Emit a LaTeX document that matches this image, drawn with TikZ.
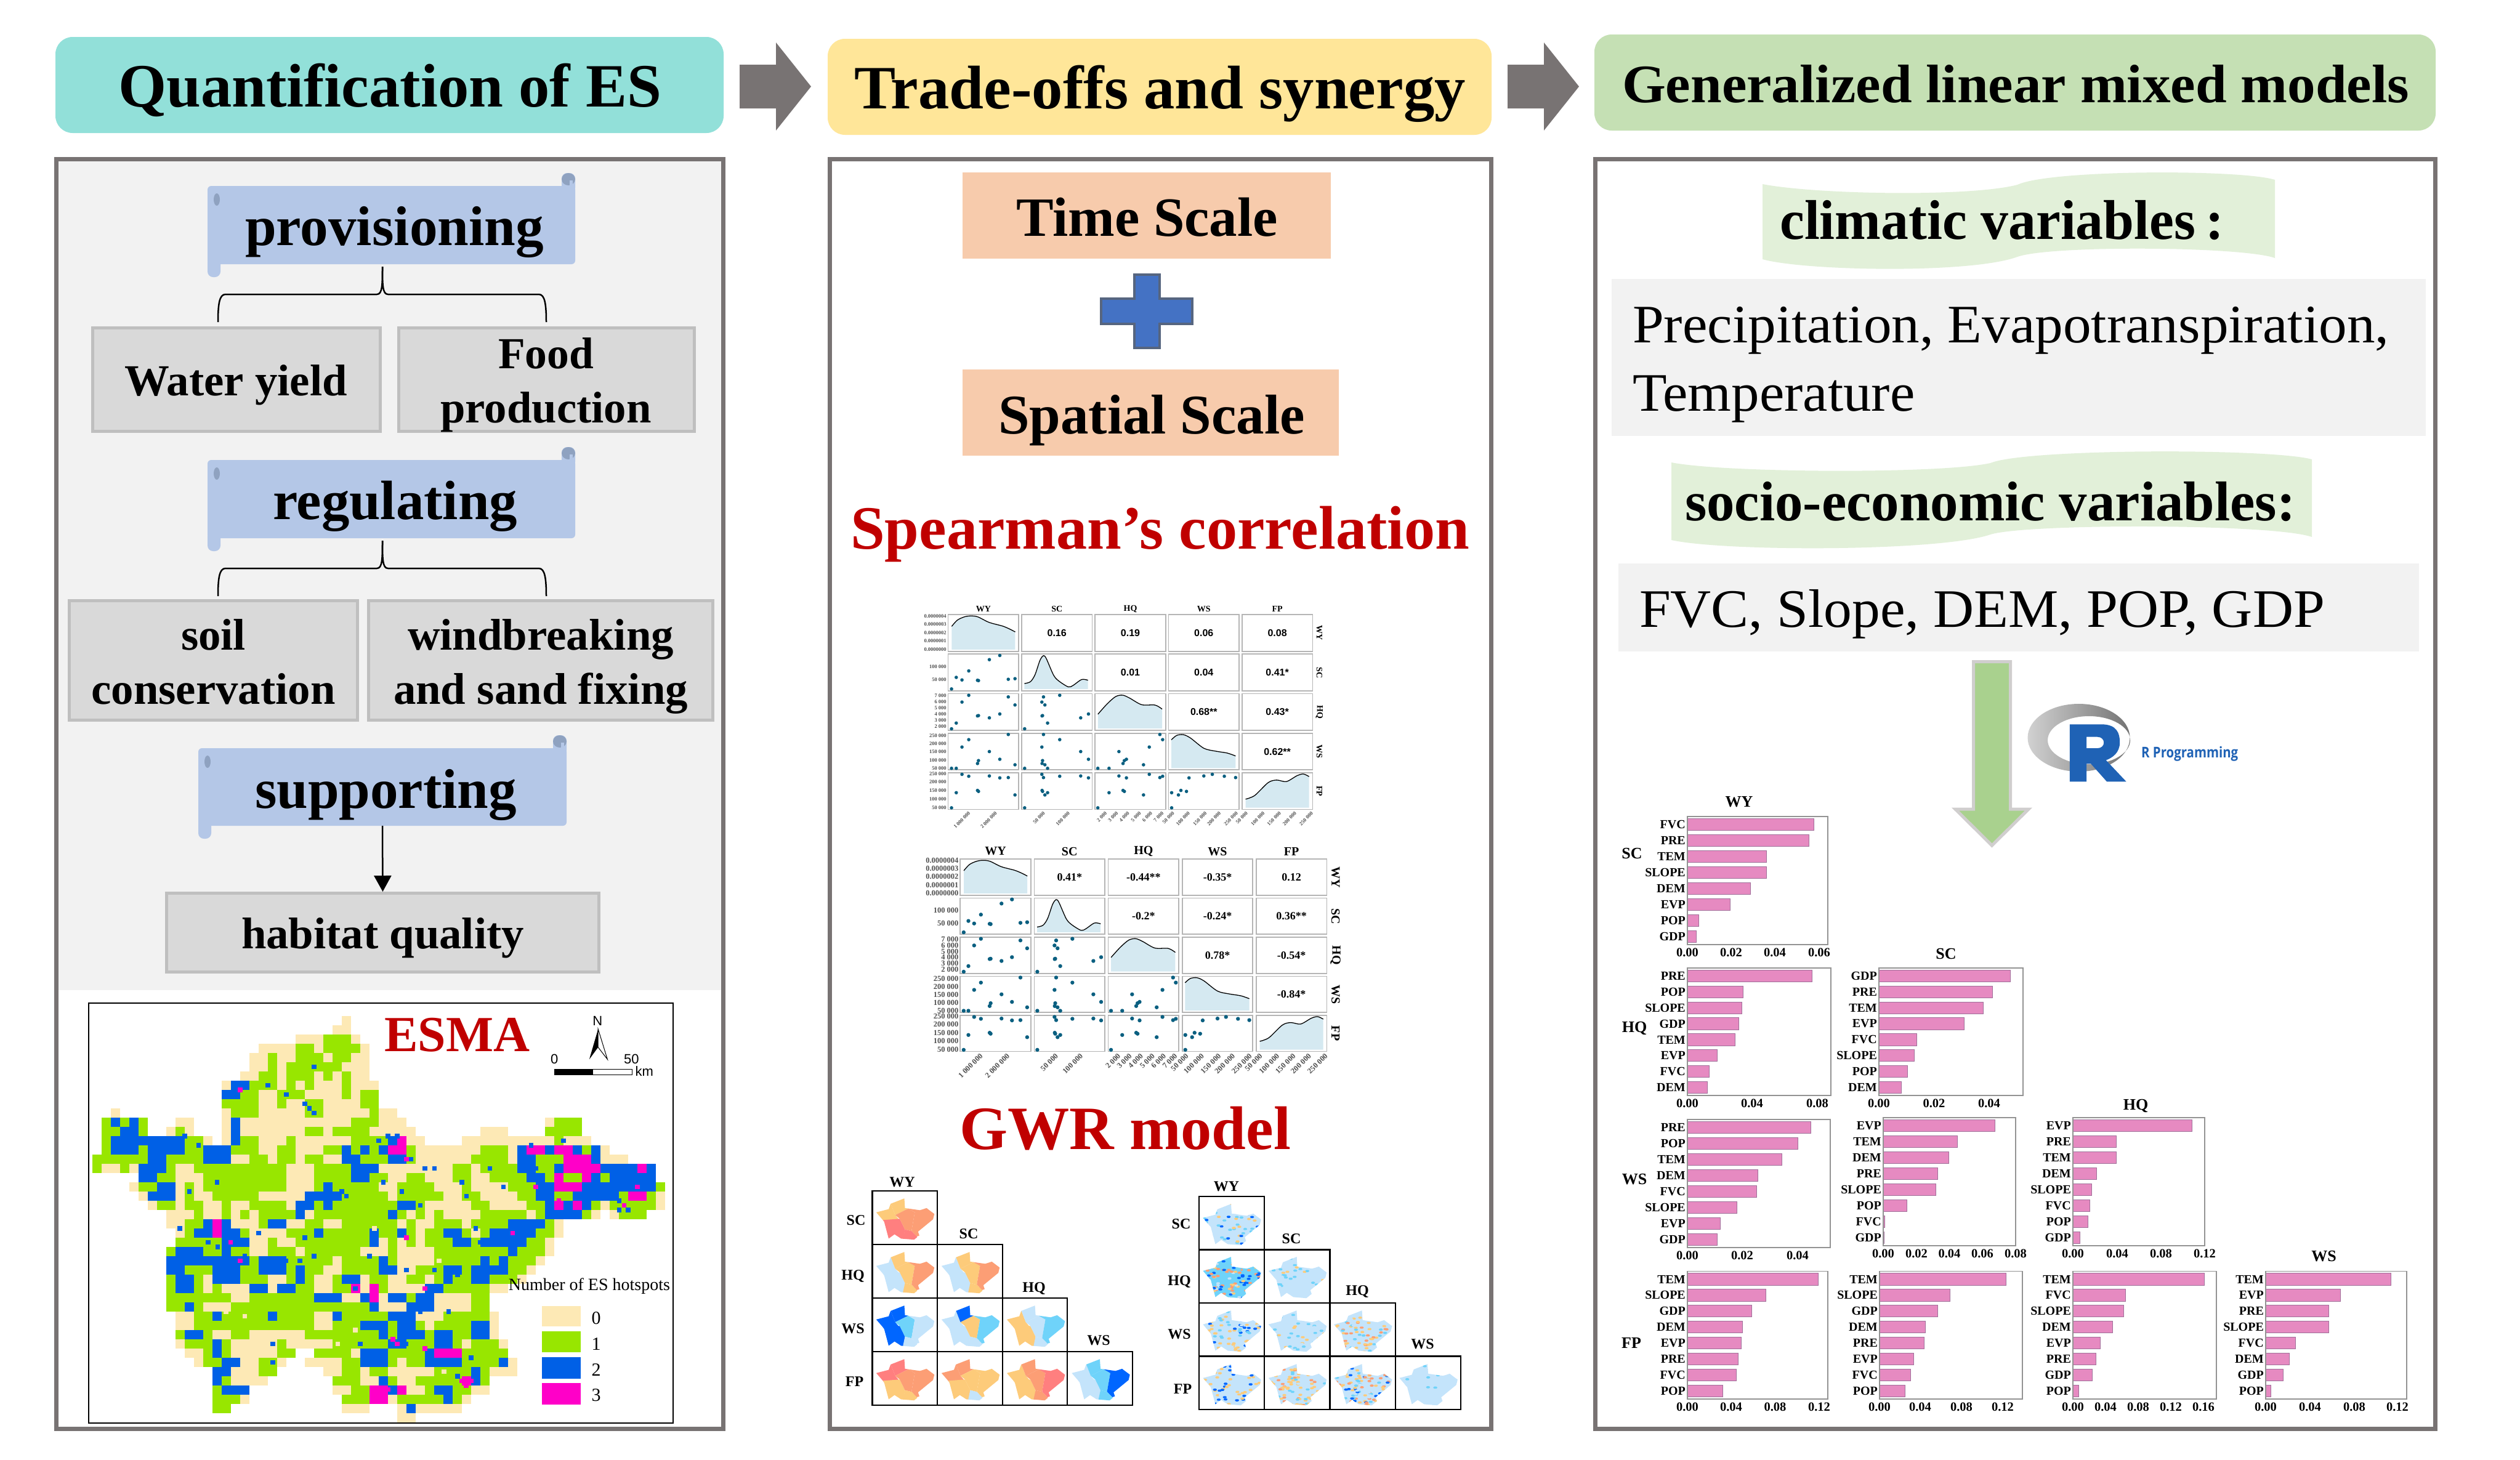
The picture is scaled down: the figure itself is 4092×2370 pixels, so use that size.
\documentclass[tikz,border=0pt]{standalone}
\usepackage{fontspec}
\usepackage{graphicx}
\setmainfont{Liberation Serif}
\setsansfont{Liberation Sans}
\newfontfamily\opensans{Open Sans}
\usetikzlibrary{arrows.meta}
\newcounter{nn}
\newsavebox\fitbox
\newlength\fitlen
\newcommand\fz[1]{\fontsize{#1}{#1}\selectfont}
\newcommand\fitw[2]{\sbox\fitbox{#2}\setlength\fitlen{\wd\fitbox}\pgfmathsetmacro\fitr{#1/\fitlen}\scalebox{\fitr}[1]{\usebox\fitbox}}
\newcommand\lbl[5]{\makebox[0pt][c]{\kern\dimexpr#1pt*2\relax\smash{\raisebox{\dimexpr-#2pt\relax}{\fz{#4}\fitw{#3}{#5}}}}}
\definecolor{hA}{HTML}{92E0D9}\definecolor{hB}{HTML}{FFE699}\definecolor{hC}{HTML}{C5E0B4}
\definecolor{frameC}{HTML}{787373}\definecolor{panelG}{HTML}{F2F2F2}
\definecolor{boxF}{HTML}{D9D9D9}\definecolor{boxS}{HTML}{BFBFBF}
\definecolor{scrollC}{HTML}{B4C7E7}\definecolor{scrollD}{HTML}{8FA2C0}
\definecolor{peach}{HTML}{F7CBAC}\definecolor{plusF}{HTML}{4472C4}\definecolor{plusS}{HTML}{56657F}
\definecolor{redT}{HTML}{C00000}\definecolor{bannerG}{HTML}{E2F0D9}
\definecolor{arrG}{HTML}{A9D18E}\definecolor{arrS}{HTML}{D0CECE}
\definecolor{rBlue}{HTML}{1F62B5}
\definecolor{barF}{HTML}{E68AC1}\definecolor{barS}{HTML}{A0709A}
\definecolor{mc}{HTML}{FDE9B5}\definecolor{mg}{HTML}{98E600}\definecolor{mb}{HTML}{0060E6}\definecolor{mm}{HTML}{FF00C8}
\definecolor{ppF}{HTML}{D5E9F1}\definecolor{ppD}{HTML}{0A5F80}\definecolor{ppC}{HTML}{B5B5B5}\definecolor{ppT}{HTML}{505050}
\definecolor{gY}{HTML}{FDCB7A}\definecolor{gO}{HTML}{FC9E75}\definecolor{gR}{HTML}{FF7F7F}
\definecolor{gL}{HTML}{C4E4FB}\definecolor{gM}{HTML}{6FD3FA}\definecolor{gD}{HTML}{0066FF}
\tikzset{
 autoname/.code={\stepcounter{nn}\edef\tmpn{\noexpand\tikzset{name=n\arabic{nn}}}\tmpn},
 every node/.append style={autoname},
 head/.style={rounded corners=28pt,inner sep=0pt,font=\bfseries},
 panel/.style={draw=frameC,line width=7pt},
 esbox/.style={draw=boxS,fill=boxF,line width=5pt,inner sep=0pt,font=\bfseries},
 txt/.style={anchor=base west,inner sep=0pt},
 peachbox/.style={fill=peach,inner sep=0pt,font=\bfseries},
 conn/.style={draw=black,line width=2.5pt},
 barrect/.style={fill=barF,draw=barS,line width=1pt},
 chartframe/.style={draw=gray!85,line width=1.5pt},
 ppcell/.style={draw=ppC,line width=1.8pt},
 gridcell/.style={draw=black,line width=2.2pt},
}
% ---------- raster of the hotspot map: cells of 15 units, "|" only groups the columns
\newcount\mapi
\def\maprow#1#2{\def\rowj{#1}\mapi=0 \mapcell#2\relax}
\def\mapcell#1{\ifx#1\relax\else
  \ifx#1|\else
   \ifx#1.\else\fill[m#1] (150+15*\the\mapi,1650+15*\rowj) rectangle ++(15.4,15.4);\fi
   \advance\mapi by 1
  \fi
  \expandafter\mapcell\fi}
% ---------- scroll shape
\newcommand\scrollshape[4]{%
 \fill[scrollC,rounded corners=6pt] (#1,#2) rectangle (#3,#4);
 \fill[scrollC,rounded corners=9pt] (#1,#4-12) rectangle (#1+21,#4+21);
 \fill[scrollC,rounded corners=9pt] (#3-22,#2-21) rectangle (#3,#2+12);
 \fill[scrollD] (#3-11,#2-11) ellipse [x radius=11pt,y radius=10pt];
 \fill[scrollC] (#3-9,#2-9) rectangle (#3-4,#2+2);
 \fill[scrollD] (#1+15,#2+22) ellipse [x radius=5pt,y radius=10pt];
}
% ---------- bar chart
\newcommand\barchart[6]{%
 \foreach \lab/\wid [count=\ii] in {#5}{%
  \pgfmathsetmacro\yc{#2+(\ii-.5)*(#4-#2)/8}
  \draw[barrect] (#1,\yc-9.6) rectangle ++(\wid,19.2);
  \node[anchor=east,inner sep=0pt,font=\bfseries\fz{20}] at (#1-3,\yc) {\lab};
 }
 \draw[chartframe] (#1,#2) rectangle (#3,#4);
 \foreach \tkx/\tkl in {#6}{\node[inner sep=0pt,font=\bfseries\fz{20.5}] at (\tkx,#4+13) {\tkl};}
}
% ---------- pair plot data (normalised within a cell)
\def\Uzero{{0.048,0.115,0.196,0.292,0.416,0.43,0.584,0.732,0.852,0.947}}
\def\Uone{{0.043,0.368,0.287,0.54,0.29,0.297,0.837,0.947,0.31,0.33}}
\def\Utwo{{0.039,0.198,0.768,0.957,0.396,0.415,0.338,0.444,0.918,0.686}}
\def\Uthree{{0.044,0.044,0.62,0.79,0.175,0.254,0.5,0.29,0.95,0.14}}
\def\Vone{{0.947,0.632,0.702,0.456,0.711,0.719,0.149,0.035,0.684,0.667}}
\def\Vtwo{{0.956,0.80,0.228,0.044,0.605,0.596,0.658,0.553,0.088,0.307}}
\def\Vthree{{0.956,0.956,0.377,0.175,0.825,0.746,0.5,0.71,0.035,0.86}}
\def\Vfour{{0.956,0.544,0.044,0.096,0.482,0.509,0.088,0.14,0.132,0.605}}
\newcommand\dens[4]{% col, ustart, uend, coordinates
 \pgfmathsetmacro\DX{\ppx+#1*\ppsx}\pgfmathsetmacro\DY{\ppy+#1*\ppsy}
 \pgfmathsetmacro\NX{\ppw*0.5485}\pgfmathsetmacro\NY{\pph*0.523}
 \begin{scope}[shift={(\DX,\DY)},x=\NX pt,y=-\NY pt]
  \fill[ppF] (#2,.95) -- plot[smooth] coordinates {#4} -- (#3,.95) -- cycle;
  \draw[black,line width=1.3pt] plot[smooth] coordinates {#4};
 \end{scope}
}
\newcommand\drawpair{%
 \foreach \c in {0,...,4}\foreach \r in {0,...,4}{%
  \pgfmathsetmacro\X{\ppx+\c*\ppsx}\pgfmathsetmacro\Y{\ppy+\r*\ppsy}
  \draw[ppcell] (\X,\Y) rectangle ++(\ppw,\pph);
 }
 \dens{0}{.05}{.95}{(.05,.32) (.13,.15) (.23,.06) (.32,.035) (.42,.06) (.58,.21) (.77,.31) (.87,.39) (.95,.47)}
 \dens{1}{.04}{.94}{(.04,.80) (.125,.75) (.19,.56) (.26,.17) (.31,.04) (.35,.12) (.45,.56) (.52,.72) (.66,.89) (.73,.85) (.85,.69) (.94,.71)}
 \dens{2}{.04}{.95}{(.04,.56) (.17,.28) (.29,.08) (.39,.04) (.49,.12) (.66,.30) (.85,.31) (.95,.42)}
 \dens{3}{.04}{.95}{(.04,.18) (.115,.06) (.21,.04) (.31,.13) (.5,.41) (.67,.49) (.83,.54) (.95,.62)}
 \dens{4}{.05}{.95}{(.05,.72) (.18,.62) (.37,.27) (.49,.20) (.63,.24) (.78,.08) (.87,.035) (.95,.105)}
 \foreach \c/\cn in {0/zero,1/one,2/two,3/three}{%
  \pgfmathtruncatemacro\rs{\c+1}
  \foreach \r/\rn in {1/one,2/two,3/three,4/four}{%
   \ifnum\r<\rs\else
   \pgfmathsetmacro\X{\ppx+\c*\ppsx}\pgfmathsetmacro\Y{\ppy+\r*\ppsy}
   \foreach \ii in {0,...,9}{%
    \pgfmathsetmacro\ux{\csname U\cn\endcsname[\ii]}
    \pgfmathsetmacro\vy{\csname V\rn\endcsname[\ii]}
    \fill[ppD] (\X+\ux*\ppw,\Y+\vy*\pph) circle[radius=\ppdot pt];
   }\fi
  }
 }
 \foreach \r/\f/\lt in {0/.035/0.0000004,0/.26/0.0000003,0/.49/0.0000002,0/.72/0.0000001,0/.947/0.0000000,
   1/.333/100 000,1/.693/50 000,
   2/.06/7 000,2/.228/6 000,2/.395/5 000,2/.553/4 000,2/.72/3 000,2/.886/2 000,
   3/.07/250 000,3/.29/200 000,3/.51/150 000,3/.73/100 000,3/.956/50 000,
   4/.026/250 000,4/.254/200 000,4/.482/150 000,4/.71/100 000,4/.947/50 000}{%
  \node[anchor=east,inner sep=0pt,text=ppT,font=\bfseries\fz{\ppaxis}] at (\ppx-5,\ppy+\r*\ppsy+\f*\pph) {\lt};
 }
 \foreach \c/\f/\lt in {0/.3/1 000 000,0/.68/2 000 000,1/.32/50 000,1/.67/100 000,
   2/.155/2 000,2/.315/3 000,2/.475/4 000,2/.64/5 000,2/.80/6 000,2/.96/7 000,
   3/.07/50 000,3/.29/100 000,3/.53/150 000,3/.73/200 000,3/.97/250 000,
   4/.07/50 000,4/.31/100 000,4/.54/150 000,4/.76/200 000,4/.995/250 000}{%
  \node[anchor=east,rotate=45,inner sep=0pt,text=ppT,font=\bfseries\fz{\ppaxis}] at (\ppx+\c*\ppsx+\f*\ppw,\ppy+4*\ppsy+\pph+10) {\lt};
 }
 \foreach \c/\lt in {0/WY,1/SC,2/HQ,3/WS,4/FP}{%
  \node[inner sep=0pt,font=\bfseries\fz{\pptitle}] at (\ppx+\c*\ppsx+.5*\ppw,\ppy-\ppgap) {\lt};
  \node[rotate=-90,inner sep=0pt,font=\bfseries\fz{\pptitle}] at (\ppx+4*\ppsx+\ppw+\ppgap+2,\ppy+\c*\ppsy+.5*\pph) {\lt};
 }
}
% ---------- small GWR maps
\newcommand\outlinecoords{(.49,.14) -- (.5,.32) -- (.73,.36) -- (.83,.32) -- (.95,.43) -- (.93,.53) -- (.70,.76) -- (.72,.83) -- (.64,.91) -- (.44,.89) -- (.34,.81) -- (.25,.89) -- (.18,.57) -- (.06,.40) -- (.25,.34) -- (.28,.24) -- cycle}
\newcommand\gwrzones[8]{% x y WN WSw N M E S
 \begin{scope}[shift={(#1,#2)},x=106pt,y=-87pt]
  \clip \outlinecoords;
  \fill[#3] (-.1,.1) -- (.27,.2) -- (.35,.45) -- (.42,.55) -- (.1,.6) -- (-.1,.5) -- cycle;
  \fill[#4] (.1,.55) -- (.42,.52) -- (.5,.72) -- (.45,1.1) -- (.1,1.1) -- cycle;
  \fill[#5] (.25,0) -- (.7,0) -- (.55,.33) -- (.35,.45) -- (.27,.2) -- cycle;
  \fill[#6] (.35,.45) -- (.55,.33) -- (.65,.4) -- (.6,.75) -- (.5,.72) -- (.42,.52) -- cycle;
  \fill[#7] (.55,.33) -- (.7,0) -- (1.1,.1) -- (1.1,.7) -- (.68,.85) -- (.6,.75) -- (.65,.4) -- cycle;
  \fill[#8] (.5,.72) -- (.6,.75) -- (.68,.85) -- (.85,1.1) -- (.4,1.1) -- (.45,1) -- cycle;
 \end{scope}
}
\pgfmathdeclarerandomlist{mixa}{{gM}{gM}{gM}{gY}{gL}{gD}}
\pgfmathdeclarerandomlist{mixb}{{gD}{gD}{gO}{gO}{gM}{gL}{gY}}
\pgfmathdeclarerandomlist{mixc}{{gM}{gM}{gL}{gL}{gY}}
\pgfmathdeclarerandomlist{mixd}{{gY}{gY}{gL}{gM}{gD}}
\pgfmathdeclarerandomlist{mixe}{{gY}{gY}{gY}{gO}{gL}{gM}}
\pgfmathdeclarerandomlist{mixf}{{gY}{gY}{gY}{gL}{gD}{gD}}
\pgfmathdeclarerandomlist{mixg}{{gY}{gY}{gL}{gL}{gD}{gO}{gM}}
\pgfmathdeclarerandomlist{mixh}{{gM}{gL}{gL}{gL}}
\newcommand\gwrnoise[5]{% x y base list n
 \begin{scope}[shift={(#1,#2)},x=106pt,y=-87pt]
  \clip \outlinecoords;
  \fill[#3] (0,0) rectangle (1,1);
  \foreach \kk in {1,...,#5}{%
   \pgfmathrandomitem{\colr}{#4}
   \pgfmathsetmacro\ra{.05+.9*rnd}\pgfmathsetmacro\rb{.12+.8*rnd}
   \fill[\colr,rounded corners=1.5pt] (\ra,\rb) rectangle ++(.06,.04);
  }
 \end{scope}
}
\begin{document}
\begin{tikzpicture}[x=1pt,y=-1pt]
\useasboundingbox (0,0) rectangle (4092,2370);
\fill[white] (0,0) rectangle (4092,2370);
% ===== headers
\node (headA) [head,fill=hA,minimum width=1085pt,minimum height=156pt] at (632.5,138) {\lbl{0.5}{35}{882}{100}{Quantification of ES}};
\node (headB) [head,fill=hB,minimum width=1078pt,minimum height=156pt] at (1883,141) {\lbl{0.5}{35}{993}{100}{Trade-offs and synergy}};
\node (headC) [head,fill=hC,minimum width=1366pt,minimum height=156pt] at (3272,134) {\lbl{1}{32}{1278}{88}{Generalized linear mixed models}};
\fill[frameC] (1201,105) -- (1260,105) -- (1260,69) -- (1317,140.5) -- (1260,212) -- (1260,176) -- (1201,176) -- cycle;
\fill[frameC] (2448,105) -- (2507,105) -- (2507,69) -- (2564,140.5) -- (2507,212) -- (2507,176) -- (2448,176) -- cycle;
% ===== panels
\fill[panelG] (91,260) rectangle (1175,1608);
\draw[panel] (91,258.5) rectangle (1174.5,2320.5);
\draw[panel] (1347.5,258.5) rectangle (2421.5,2320.5);
\draw[panel] (2590.5,258.5) rectangle (3954.5,2320.5);
% ===== left panel
\scrollshape{337}{302}{934}{429}
\node (prov) [inner sep=0pt,font=\bfseries,minimum width=597pt,minimum height=127pt] at (635.5,365.5) {\lbl{5}{32.5}{485}{91}{provisioning}};
\node (water) [esbox,minimum width=467pt,minimum height=168pt] at (384,616.5) {\lbl{-1}{25.5}{362}{72}{Water yield}};
\node (food) [esbox,minimum width=480pt,minimum height=168pt] at (887.5,616.5) {\lbl{-1}{-18.5}{155}{72}{Food}\lbl{-1}{69.5}{342}{72}{production}};
\coordinate (provS) at (621,433);\coordinate (provL) at (354,523);\coordinate (provR) at (887,523);
\draw[conn] (provS) .. controls (621,462) and (621,478) .. (612,478) -- (366,478) .. controls (356,478) and (354,495) .. (provL);
\draw[conn] (provS) .. controls (621,462) and (621,478) .. (630,478) -- (875,478) .. controls (885,478) and (887,495) .. (provR);
\scrollshape{337}{747}{934}{874}
\node (reg) [inner sep=0pt,font=\bfseries,minimum width=597pt,minimum height=127pt] at (635.5,810.5) {\lbl{6}{32.5}{397}{90}{regulating}};
\node (soil) [esbox,minimum width=468pt,minimum height=194pt] at (346.5,1072.5) {\lbl{0}{-17.5}{105}{72}{soil}\lbl{0}{70.5}{396}{72}{conservation}};
\node (wind) [esbox,minimum width=559pt,minimum height=194pt] at (878,1072.5) {\lbl{0}{-17.5}{432}{72}{windbreaking}\lbl{0}{70.5}{478}{72}{and sand fixing}};
\coordinate (regS) at (621,878);\coordinate (regL) at (354,968);\coordinate (regR) at (887,968);
\draw[conn] (regS) .. controls (621,907) and (621,923) .. (612,923) -- (366,923) .. controls (356,923) and (354,940) .. (regL);
\draw[conn] (regS) .. controls (621,907) and (621,923) .. (630,923) -- (875,923) .. controls (885,923) and (887,940) .. (regR);
\scrollshape{322}{1215}{920}{1341}
\node (sup) [inner sep=0pt,font=\bfseries,minimum width=598pt,minimum height=126pt] at (621,1278) {\lbl{5.5}{34}{425}{91}{supporting}};
\node (habitat) [esbox,minimum width=702pt,minimum height=128pt] at (621.5,1514.5) {\lbl{0}{25.5}{459}{72}{habitat quality}};
\draw[conn,-{Triangle[length=26pt,width=28pt]}] (sup.south) -- (habitat.north);
% ===== hotspot map
\draw[black,line width=1.5pt] (144,1629) rectangle (1093,2311);
\maprow{0}{..........|..........|.......c}
\maprow{1}{..........|..........|......cc}
\maprow{2}{..........|..........|..cccgggc}
\maprow{3}{..........|........cc|ccggcggggc}
\maprow{4}{..........|.......ccg|ccgggcggcc}
\maprow{5}{..........|.......ccg|cggggggccc}
\maprow{6}{..........|......ccgg|cgggcgcgcc}
\maprow{7}{..........|....cbbggg|cgcgcccgcc|c}
\maprow{8}{..........|....bbggcc|gggccccgcg|g}
\maprow{9}{..........|....ggggcc|gccggccccg|g}
\maprow{10}{..c.......|....cgggcc|cccggccccc|gcc}
\maprow{11}{.gbgbg...c|c...cbcccc|ccccccccgg|gccc......|.........c|ggg}
\maprow{12}{.ggbbg..cg|c...cbcccc|cccggcgggg|ccccc.....|..ccc....g|ggg}
\maprow{13}{.gbbbbbbbb|ggc.cbggcc|cgccccccgg|ggbmcc....|cccccccccc|gccc}
\maprow{14}{.gbbbgbbbb|ggbbbgggcc|ggcccggbgb|gbmmgccccc|ccgggcbmmb|mmbgbc}
\maprow{15}{ggggggbbgg|ggbbbccggc|ggcggccbbg|ggbbgccccc|cggggcbbgg|gmmmbccc}
\maprow{16}{gccgcbbbgc|cggggggggg|gcccggggbb|bccccccccg|gcggggbbgg|bmmmmbbbbm|b}
\maprow{17}{.....bbggc|ccgggggggg|gcccggggbb|ggccggcccg|gccggggbbg|mggmbgbbbb|b}
\maprow{18}{....cggbbc|gcgggggggg|gcccgbgggg|gccggggccc|gccccgggbb|mmmbbbbbbb|bg}
\maprow{19}{.....cbbbc|gccgggggcc|cccbbbbggg|ggcgggggcc|ggccccggbb|ggbbbbbgmm|gc}
\maprow{20}{......cggc|ggccgccggg|gcbbgbgggg|gggbbgcccc|cggccccggb|mbmbgcgggg|gc}
\maprow{21}{........cc|cgccgcgcgg|ggbcgggggg|ggbgcgcgcc|ccgggggcgb|bbbgc.cggg}
\maprow{22}{........cc|ggbmbcccgb|bccggccggg|gggcgccggg|cggggbbbbg|c}
\maprow{23}{.........c|gbbmbbgccc|cgggbggggg|bggbgcggbb|gcgbbbbbgg|c}
\maprow{24}{.........g|ggggbbbccg|ccgggggggg|bcgcgcgggb|bgbbbbbggc}
\maprow{25}{........gb|bbggbggccg|ggcggggggc|ccgccccggg|gggggbgggc}
\maprow{26}{........bb|bbbbbbbgbb|bgggggcggg|gbgccccggg|ggbgbgggc}
\maprow{27}{........bb|gggbbbggbb|bgbggccggg|gbbccgggbb|gbbbbggc}
\maprow{28}{........gb|bgcbbbgggc|cgbgccgbbc|ggccggcgbg|gbbgggc}
\maprow{29}{........gb|bgcgcccbbc|bbggccggmc|mgccccbbgg|gggcc}
\maprow{30}{........gg|gggggccggg|ggggbbbccb|mcbbgbbccc|cgg}
\maprow{31}{........gg|bgcccggggg|gggggggggg|bcccbbbccc|cgg}
\maprow{32}{.........c|cggbgggggb|ggggccbggg|ggbbbcccgg|gggc}
\maprow{33}{.........c|cggggggggg|ggggccgggb|bbgbbgcggg|gbbc}
\maprow{34}{.........g|bbgccggccc|cccggggggg|gbgbbbgbbg|gbbc}
\maprow{35}{.........c|gggbgccccc|gcccccgggg|ggbbgggbbg|cgggc}
\maprow{36}{..........|ccgbgccccc|gg..ggggcb|bbggggbmmm|ggggg}
\maprow{37}{..........|.cggbbccgg|c..ccccggb|bbgcggbbbb|ggggbc}
\maprow{38}{..........|...bbcccgg|.....ccggc|ggcccccggg|gbgccc}
\maprow{39}{..........|...bgcccc.|......gggc|cbgccggggg|mbg}
\maprow{40}{..........|...gbbb...|......ccgg|mmbmccgbbg|gcc}
\maprow{41}{..........|...gggc...|.......ggg|mmcgggggbg|c}
\maprow{42}{..........|...gg.....|.......ccc|...cbccccc}
\maprow{43}{..........|..........|..........|...cc}
% single small cells of the map
\begin{scope}[shift={(150,1650)},x=0.3333pt,y=-0.3333pt]
 \foreach \a/\b in {855/337,945/382,1080/248,1035/428,1058/450,1080/473,450/585,518/630,608/810,473/855,1058/878,1103/878,1215/855,1238/878,1395/607,1418/810}{\fill[mb] (\a-11,\b-11) rectangle ++(22,22);}
 \fill[mm] (709,349) rectangle ++(22,22);
\end{scope}
\begin{scope}[shift={(600,1650)},x=0.3333pt,y=-0.3333pt]
 \foreach \a/\b in {586/743,810/743,450/810,652/832,473/878,248/922,90/585,135/585,45/607,202/697,270/743,316/743,787/630,945/607,157/855,1216/900,1216/945,1260/945}{\fill[mb] (\a-11,\b-11) rectangle ++(22,22);}
 \foreach \a/\b in {180/697,810/832,1305/832,1240/922,157/607,923/900}{\fill[mm] (\a-11,\b-11) rectangle ++(22,22);}
\end{scope}
\begin{scope}[shift={(250,1980)},x=0.3827pt,y=-0.3333pt]
 \foreach \a/\b in {110/45,445/68,640/90,230/112,270/135,680/180,620/202,560/202,385/180,1072/247,1190/247,1250/450,150/428,505/607,505/697,875/607,1070/607,1385/112,1365/45,915/180,1288/270,1288/765,1345/675,855/337,1130/450}{\fill[mb] (\a-10,\b-11) rectangle ++(20,22);}
 \foreach \a/\b in {1072/90,325/112,365/202,1150/337,1150/630,1522/68,1032/607,1013/585,993/830,1305/787,1345/787,1325/810}{\fill[mm] (\a-10,\b-11) rectangle ++(20,22);}
 \foreach \a/\b in {935/45,385/472,305/450,855/540,1230/742,780/607,1210/202}{\fill[mc] (\a-10,\b-11) rectangle ++(20,22);}
\end{scope}
\begin{scope}[shift={(0,1600)},x=0.7974pt,y=-0.4912pt]
% legend
\fill[mc] (1104,1060) rectangle (1182,1128);
\fill[mg] (1104,1145) rectangle (1182,1214);
\fill[mb] (1104,1230) rectangle (1182,1300);
\fill[mm] (1104,1316) rectangle (1182,1386);
\foreach \lt/\b in {0/1100,1/1185,2/1271,3/1356}{\node[inner sep=0pt,font=\fz{30}] at (1214,\b) {\lt};}
\node (legT) [inner sep=0pt,font=\fz{28}] at (1200,995) {Number of ES hotspots};
% north arrow, scale
\node (northN) [inner sep=0pt,font=\sffamily\fz{22}] at (1217,118) {N};
\fill[black] (1218,145) -- (1200,245) -- (1218,205) -- cycle;
\draw[black,fill=white,line width=1pt] (1218,145) -- (1237,245) -- (1218,205) -- cycle;
\fill[black] (1129,277) rectangle (1208,297);
\draw[black,line width=1pt] (1129,277) rectangle (1287,297);
\node[inner sep=0pt,font=\sffamily\fz{22}] at (1129,244) {0};
\node[inner sep=0pt,font=\sffamily\fz{22}] at (1286,244) {50};
\node[inner sep=0pt,font=\sffamily\fz{22}] at (1312,285) {km};
\end{scope}
\node (esma) [txt,text=redT,font=\bfseries] at (624,1707) {\fz{82}\fitw{236}{ESMA}};
% ===== middle panel
\node (tscale) [peachbox,minimum width=598pt,minimum height=140pt] at (1862,350) {\lbl{0.5}{33}{425}{90}{Time Scale}};
\fill[plusF,draw=plusS,line width=4pt] (1842,446) -- (1882.5,446) -- (1882.5,485) -- (1935.5,485) -- (1935.5,526) -- (1882.5,526) -- (1882.5,565) -- (1842,565) -- (1842,526) -- (1788,526) -- (1788,485) -- (1842,485) -- cycle;
\node (sscale) [peachbox,minimum width=611pt,minimum height=140pt] at (1868.5,670) {\lbl{1.5}{34}{498}{91}{Spatial Scale}};
\node (spear) [txt,text=redT,font=\bfseries] at (1381,891) {\fz{100}\fitw{1005}{Spearman’s correlation}};
\node (gwr) [txt,text=redT,font=\bfseries] at (1558,1866) {\fz{100}\fitw{538}{GWR model}};
\begin{scope}[shift={(1420,960)},x=0.5485pt,y=-0.523pt]
 \def\ppx{218}\def\ppy{73}\def\ppsx{217.5}\def\ppsy{122.7}\def\ppw{209}\def\pph{114}
 \def\ppaxis{8.5}\def\pptitle{14}\def\ppgap{18}\def\ppdot{2.8}
 \drawpair
 \foreach \c/\r/\lt in {1/0/0.16,2/0/0.19,3/0/0.06,4/0/0.08,2/1/0.01,3/1/0.04,4/1/0.41*,3/2/0.68**,4/2/0.43*,4/3/0.62**}{%
  \node[inner sep=0pt,font=\sffamily\bfseries\fz{16}] at (\ppx+\c*\ppsx+.5*\ppw,\ppy+\r*\ppsy+.5*\pph) {\lt};
 }
\end{scope}
\begin{scope}[shift={(1420,960)},x=0.5485pt,y=-0.523pt]
 \def\ppx{254}\def\ppy{832}\def\ppsx{219}\def\ppsy{121.3}\def\ppw{209}\def\pph{112}
 \def\ppaxis{12.5}\def\pptitle{20}\def\ppgap{24}\def\ppdot{3.2}
 \drawpair
 \foreach \c/\r/\lt in {1/0/0.41*,2/0/-0.44**,3/0/-0.35*,4/0/0.12,2/1/-0.2*,3/1/-0.24*,4/1/0.36**,3/2/0.78*,4/2/-0.54*,4/3/-0.84*}{%
  \node[inner sep=0pt,font=\bfseries\fz{18}] at (\ppx+\c*\ppsx+.5*\ppw,\ppy+\r*\ppsy+.5*\pph) {\lt};
 }
\end{scope}
% ===== GWR triangles, left
\gwrzones{1416.5}{1934}{gY}{gR}{gY}{gO}{gO}{gR}
\gwrzones{1416.5}{2021}{gL}{gL}{gY}{gY}{gO}{gY}
\gwrzones{1522.5}{2021}{gL}{gL}{gY}{gY}{gO}{gY}
\gwrzones{1416.5}{2108}{gD}{gD}{gD}{gM}{gL}{gL}
\gwrzones{1522.5}{2108}{gL}{gL}{gD}{gY}{gM}{gL}
\gwrzones{1628.6}{2108}{gY}{gY}{gL}{gL}{gM}{gL}
\gwrzones{1416.5}{2195}{gR}{gY}{gR}{gO}{gO}{gY}
\gwrzones{1522.5}{2195}{gO}{gY}{gO}{gY}{gY}{gL}
\gwrzones{1628.6}{2195}{gY}{gY}{gO}{gO}{gR}{gO}
\gwrzones{1734}{2195}{gL}{gL}{gM}{gM}{gD}{gM}
\foreach \c/\r in {0/0,0/1,1/1,0/2,1/2,2/2,0/3,1/3,2/3,3/3}{%
 \draw[gridcell] (1416.5+\c*105.6,1934+\r*87) rectangle ++(105.6,87);
}
\foreach \a/\b/\lt in {1465/1920/WY,1573/2004/SC,1679/2092/HQ,1784/2177/WS,1390/1982/SC,1385/2072/HQ,1385/2158/WS,1387.5/2244/FP}{%
 \node[inner sep=0pt,font=\bfseries\fz{24}] at (\a,\b) {\lt};
}
% ===== GWR triangles, right
\pgfmathsetseed{4242}
\gwrnoise{1947}{1943}{gL}{mixa}{70}
\gwrnoise{1947}{2029}{gM}{mixb}{160}
\gwrnoise{2053.5}{2029}{gL}{mixc}{60}
\gwrnoise{1947}{2116}{gL}{mixd}{100}
\gwrnoise{2053.5}{2116}{gL}{mixc}{80}
\gwrnoise{2159.6}{2116}{gL}{mixe}{110}
\gwrnoise{1947}{2203}{gL}{mixf}{80}
\gwrnoise{2053.5}{2203}{gL}{mixe}{130}
\gwrnoise{2159.6}{2203}{gL}{mixg}{160}
\gwrnoise{2266}{2203}{gL}{mixh}{35}
\foreach \c/\r in {0/0,0/1,1/1,0/2,1/2,2/2,0/3,1/3,2/3,3/3}{%
 \draw[gridcell] (1947+\c*106.2,1943+\r*86.5) rectangle ++(106.2,86.5);
}
\foreach \a/\b/\lt in {1991.5/1927/WY,2097/2012/SC,2204/2097/HQ,2310/2183/WS,1918/1988/SC,1915/2081/HQ,1915/2167/WS,1920.6/2256/FP}{%
 \node[inner sep=0pt,font=\bfseries\fz{24}] at (\a,\b) {\lt};
}
% ===== right panel
\fill[bannerG] (2862,299) .. controls (2950,316) and (3200,320) .. (3276,300) .. controls (3330,275) and (3640,275) .. (3694,292) -- (3694,419) .. controls (3640,400) and (3330,398) .. (3276,417) .. controls (3200,445) and (2930,440) .. (2862,421) -- cycle;
\node (climT) [txt,font=\bfseries] at (2890,388) {\fz{91}\fitw{721}{climatic variables\hspace{.18em}:}};
\node (climB) [fill=panelG,minimum width=1322pt,minimum height=255pt,inner sep=0pt] at (3278,580.5) {};
\node (climA) [txt] at (2651,556) {\fz{88}\fitw{1228}{Precipitation, Evapotranspiration,}};
\node (climC) [txt] at (2651,667) {\fz{88}\fitw{458}{Temperature}};
\fill[bannerG] (2714,751) .. controls (2800,768) and (3150,770) .. (3232,752) .. controls (3290,728) and (3690,728) .. (3754,746) -- (3754,872) .. controls (3690,850) and (3290,850) .. (3232,868) .. controls (3150,896) and (2800,896) .. (2714,877) -- cycle;
\node (socT) [txt,font=\bfseries] at (2736,845) {\fz{91}\fitw{991}{socio-economic variables:}};
\node (socB) [fill=panelG,minimum width=1300pt,minimum height=143pt,inner sep=0pt] at (3278,986.5) {\lbl{-59.5}{31.5}{1113}{88}{FVC, Slope, DEM, POP, GDP}};
\fill[arrG,draw=arrS,line width=5pt] (3204.5,1074.5) -- (3264.5,1074.5) -- (3264.5,1314) -- (3294,1314) -- (3234.5,1373) -- (3175,1314) -- (3204.5,1314) -- cycle;
% R logo
\shade[even odd rule,left color=black!18,right color=black!55] (3375.5,1198) ellipse [x radius=83pt,y radius=55pt] (3392,1202) ellipse [x radius=67pt,y radius=39pt];
\begin{scope}[shift={(2620,1060)},x=0.7015pt,y=-0.4847pt]
\fill[rBlue,even odd rule] (1056,240) -- (1130,240) .. controls (1165,240) and (1172,270) .. (1172,300) .. controls (1172,335) and (1155,352) .. (1140,360) -- (1187,432) -- (1142,432) -- (1105,372) -- (1095,372) -- (1095,432) -- (1056,432) -- cycle (1095,282) -- (1120,282) .. controls (1140,282) and (1140,320) .. (1120,320) -- (1095,320) -- cycle;
\end{scope}
\node (rprog) [txt,text=rBlue] at (3477,1230) {\opensans\bfseries\fz{24}\fitw{157}{R Programming}};
% charts
\barchart{2740}{1326}{2968}{1534}{FVC/205,PRE/197,TEM/128,SLOPE/128,DEM/102,EVP/69,POP/18,GDP/14}{2740/0.00,2811/0.02,2882/0.04,2954/0.06}
\barchart{2740}{1572}{2973}{1779}{PRE/202,POP/90,SLOPE/88,GDP/83,TEM/77,EVP/48,FVC/35,DEM/32}{2740/0.00,2845/0.04,2951/0.08}
\barchart{3051}{1572}{3285}{1779}{GDP/213,PRE/184,TEM/169,EVP/138,FVC/61,SLOPE/57,POP/46,DEM/36}{3051/0.00,3140.5/0.02,3230/0.04}
\barchart{2740}{1818}{2972}{2026}{PRE/200,POP/179.5,TEM/153,DEM/114,FVC/112.5,SLOPE/80,EVP/53,GDP/48}{2740/0.00,2829/0.02,2919/0.04}
\barchart{3058}{1815}{3273}{2023}{EVP/181,TEM/120,DEM/106,PRE/88,SLOPE/85,POP/38,FVC/2,GDP/1}{3058/0.00,3112/0.02,3165.5/0.04,3219/0.06,3273/0.08}
\barchart{3366}{1815}{3580}{2023}{EVP/193,PRE/70,TEM/70,DEM/38,SLOPE/30,FVC/27,POP/24,GDP/11}{3366/0.00,3438/0.04,3509/0.08,3580/0.12}
\barchart{2740}{2064.5}{2968}{2272}{TEM/212,SLOPE/127,GDP/104,DEM/89,EVP/87,PRE/82,FVC/79,POP/57}{2740/0.00,2811/0.04,2882.5/0.08,2954/0.12}
\barchart{3052}{2064.5}{3284}{2272}{TEM/205,SLOPE/114,GDP/94,DEM/74,PRE/72,EVP/55,FVC/50,POP/41}{3052/0.00,3118/0.04,3185/0.08,3252/0.12}
\barchart{3366}{2064.5}{3599}{2272}{TEM/213,FVC/85,SLOPE/82,DEM/64,EVP/44,PRE/37.5,GDP/31,POP/9}{3366/0.00,3419/0.04,3472/0.08,3525/0.12,3578/0.16}
\barchart{3679}{2064.5}{3908}{2272}{TEM/203,EVP/121,PRE/102,SLOPE/102,FVC/48,DEM/38,GDP/28,POP/8}{3679/0.00,3751/0.04,3823/0.08,3893/0.12}
\foreach \a/\b/\lt in {2824/1302/WY,3160/1549/SC,3468/1796/HQ,3773.5/2040/WS,2650/1386/SC,2654/1670/HQ,2654/1915/WS,2649/2181/FP}{%
 \node[inner sep=0pt,font=\bfseries\fz{26}] at (\a,\b) {\lt};
}
\end{tikzpicture}
\end{document}
